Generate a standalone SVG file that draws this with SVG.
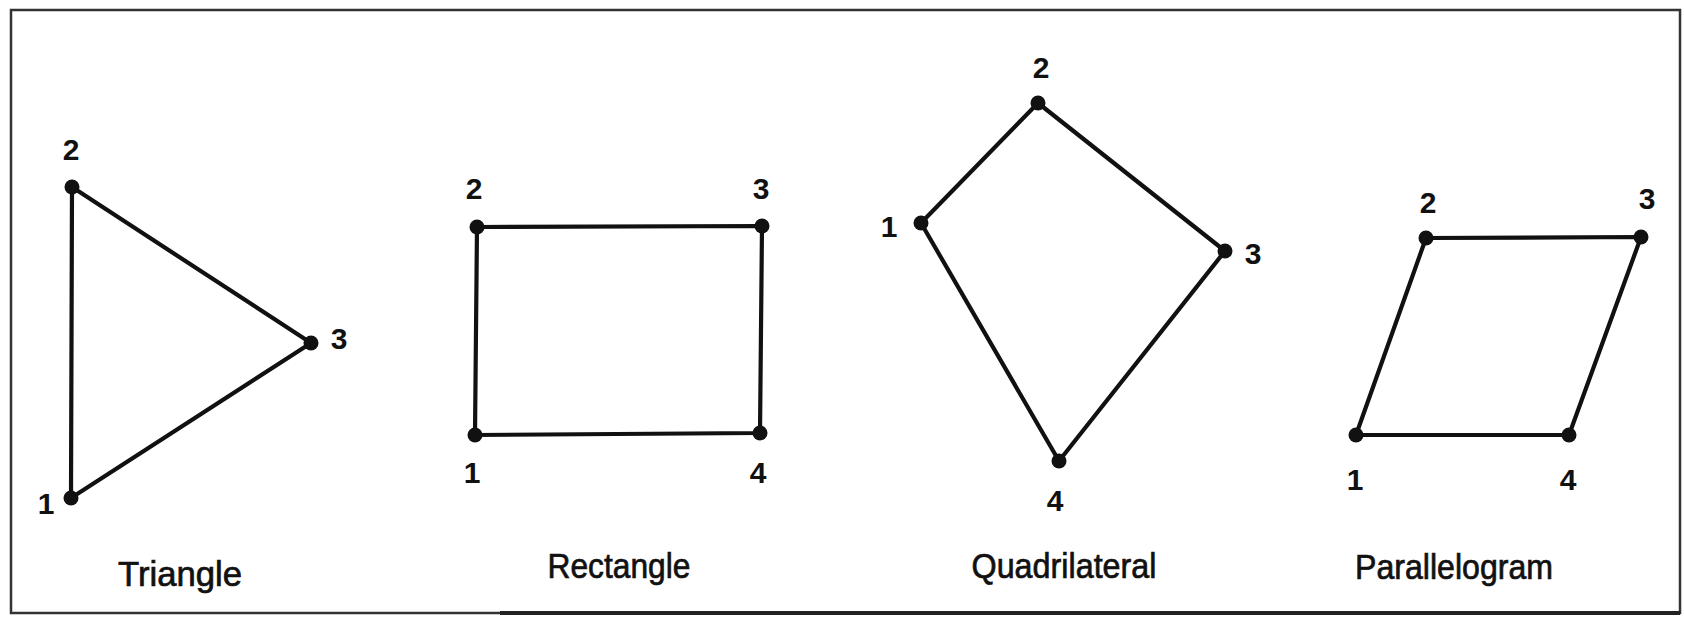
<svg xmlns="http://www.w3.org/2000/svg" width="1684" height="621" viewBox="0 0 1684 621">
<style>
.edge{stroke:#111;stroke-width:4.2;fill:none;stroke-linejoin:round}
.dot{fill:#111}
.num{font-family:"Liberation Sans",Arial,sans-serif;font-size:30px;font-weight:bold;fill:#111;text-anchor:middle}
.title{font-family:"Liberation Sans",Arial,sans-serif;font-size:35px;fill:#111;text-anchor:middle;stroke:#111;stroke-width:0.7}
.frame{fill:none;stroke:#333;stroke-width:2.5}
</style>
<rect width="1684" height="621" fill="#fff"/>
<rect class="frame" x="11" y="10" width="1669" height="603"/>
<line x1="500" y1="613" x2="1680" y2="613" stroke="#222" stroke-width="4"/>
<g id="connectors">
<polygon class="edge" points="71,498 72,187 311,343"/>
<polygon class="edge" points="475,435 477,227 762,226 760,433"/>
<polygon class="edge" points="921,223 1038,103 1225,251 1059,461"/>
<polygon class="edge" points="1356,435 1426,238 1641,237 1569,435"/>
</g>
<g id="triangle">
<circle class="dot" cx="71" cy="498" r="7.5"/>
<circle class="dot" cx="72" cy="187" r="7.5"/>
<circle class="dot" cx="311" cy="343" r="7.5"/>
<text class="num" x="46" y="514">1</text>
<text class="num" x="71" y="160">2</text>
<text class="num" x="339" y="349">3</text>
<text class="title" x="180" y="586" textLength="124" lengthAdjust="spacingAndGlyphs">Triangle</text>
</g>
<g id="rectangle">
<circle class="dot" cx="475" cy="435" r="7.5"/>
<circle class="dot" cx="477" cy="227" r="7.5"/>
<circle class="dot" cx="762" cy="226" r="7.5"/>
<circle class="dot" cx="760" cy="433" r="7.5"/>
<text class="num" x="472" y="483">1</text>
<text class="num" x="474" y="199">2</text>
<text class="num" x="761" y="199">3</text>
<text class="num" x="758" y="483">4</text>
<text class="title" x="619" y="578" textLength="143" lengthAdjust="spacingAndGlyphs">Rectangle</text>
</g>
<g id="quadrilateral">
<circle class="dot" cx="921" cy="223" r="7.5"/>
<circle class="dot" cx="1038" cy="103" r="7.5"/>
<circle class="dot" cx="1225" cy="251" r="7.5"/>
<circle class="dot" cx="1059" cy="461" r="7.5"/>
<text class="num" x="889" y="237">1</text>
<text class="num" x="1041" y="78">2</text>
<text class="num" x="1253" y="264">3</text>
<text class="num" x="1055" y="511">4</text>
<text class="title" x="1064" y="578" textLength="185" lengthAdjust="spacingAndGlyphs">Quadrilateral</text>
</g>
<g id="parallelogram">
<circle class="dot" cx="1356" cy="435" r="7.5"/>
<circle class="dot" cx="1426" cy="238" r="7.5"/>
<circle class="dot" cx="1641" cy="237" r="7.5"/>
<circle class="dot" cx="1569" cy="435" r="7.5"/>
<text class="num" x="1355" y="490">1</text>
<text class="num" x="1428" y="213">2</text>
<text class="num" x="1647" y="209">3</text>
<text class="num" x="1568" y="490">4</text>
<text class="title" x="1454" y="579" textLength="198" lengthAdjust="spacingAndGlyphs">Parallelogram</text>
</g>
</svg>
